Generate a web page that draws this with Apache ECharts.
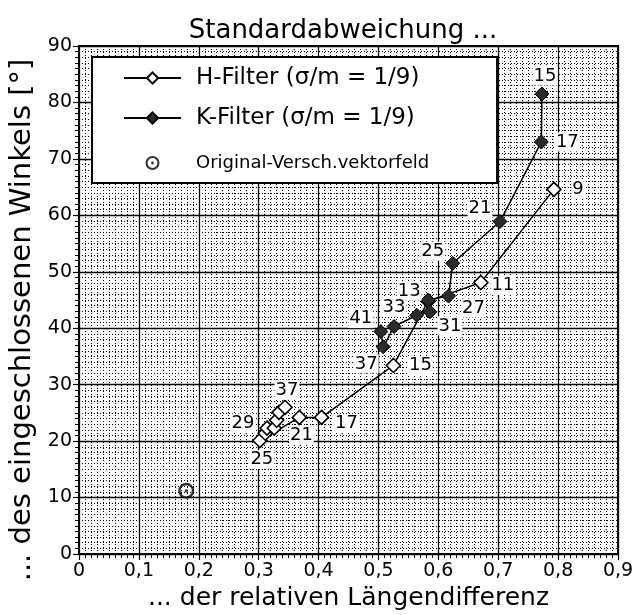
<!DOCTYPE html>
<html><head><meta charset="utf-8">
<script src="https://cdn.jsdelivr.net/npm/echarts@6/dist/echarts.min.js"></script>
<style>html,body{margin:0;padding:0;background:#fff}#c{width:637px;height:615px}</style>
</head><body><div id="c"></div>
<script>
// ---- data ----
const hX = [0.793, 0.671, 0.583, 0.525, 0.405, 0.368, 0.302, 0.311, 0.314, 0.326, 0.330, 0.334, 0.344];
const hY = [64.6, 48.1, 44.8, 33.4, 24.2, 24.2, 20.1, 21.4, 22.3, 22.3, 23.7, 25.1, 26.0];
const hLab = ['9', '11', '13', '15', '17', '21', '25', '', '29', '', '', '', '37'];
const kX = [0.773, 0.772, 0.703, 0.624, 0.617, 0.583, 0.586, 0.564, 0.526, 0.508, 0.504];
const kY = [81.5, 73.0, 58.9, 51.5, 45.7, 45.0, 42.9, 42.3, 40.3, 36.7, 39.4];
const kLab = ['15', '17', '21', '25', '27', '', '31', '', '33', '37', '41'];
const oX = [0.179];
const oY = [11.2];
const xTicks = ['0', '0,1', '0,2', '0,3', '0,4', '0,5', '0,6', '0,7', '0,8', '0,9'];
const yTicks = ['0', '10', '20', '30', '40', '50', '60', '70', '80', '90'];
const names = ['H-Filter (σ/m = 1/9)', 'K-Filter (σ/m = 1/9)', 'Original-Versch.vektorfeld'];

// label offsets in pixels (style, not data)
const hOff = [[24,0],[22,3],[-19,-10],[27,0],[25,6],[2,18],[2,19],[0,0],[-24,-5],[0,0],[0,0],[0,0],[2,-17]];
const kOff = [[3,-18],[26,0],[-20,-13],[-20,-12],[25,12],[0,0],[20,14],[0,0],[0,-19],[-17,17],[-20,-13]];

const FAM = 'DejaVu Sans';
const ring = 'path://M0,-10 A10,10 0 1,1 0,10 A10,10 0 1,1 0,-10 Z M0,-7 A7,7 0 1,0 0,7 A7,7 0 1,0 0,-7 Z M0,-2 A2,2 0 1,1 0,2 A2,2 0 1,1 0,-2 Z';

function pts(xs, ys) { return xs.map((x, i) => [x, ys[i]]); }
function labData(xs, ys, labs) {
  const out = [];
  xs.forEach((x, i) => { if (labs[i]) out.push([x, ys[i], i]); });
  return out;
}
function labelSeries(xs, ys, labs, offs) {
  return {
    type: 'custom', z: 6, silent: true,
    data: labData(xs, ys, labs),
    encode: { x: 0, y: 1 },
    renderItem: function (params, api) {
      const i = api.value(2);
      const p = api.coord([api.value(0), api.value(1)]);
      return {
        type: 'text', x: p[0] + offs[i][0], y: p[1] + offs[i][1],
        style: { text: labs[i], fill: '#000', fontSize: 18, fontFamily: FAM, align: 'center', verticalAlign: 'middle',
                 backgroundColor: '#fff', padding: [1, 1, 0, 1] }
      };
    }
  };
}

const chart = echarts.init(document.getElementById('c'));
const axisCommon = {
  type: 'value',
  axisLine: { show: true, onZero: false, lineStyle: { color: '#000', width: 2 } },
  axisTick: { show: true, inside: false, length: 6, lineStyle: { color: '#000', width: 1.2 } },
  minorTick: { show: true, splitNumber: 10, length: 4, lineStyle: { color: '#000', width: 1 } },
  splitLine: { show: true, lineStyle: { color: '#000', width: 1.3 } },
  minorSplitLine: { show: true, lineStyle: { color: '#000', width: 1, type: [1, 2] } },
  nameLocation: 'middle'
};
chart.setOption({
  animation: false,
  backgroundColor: '#fff',
  grid: { left: 79, right: 19, top: 46, bottom: 61, outerBoundsMode: 'none', show: true, borderColor: '#000', borderWidth: 2 },
  xAxis: Object.assign({}, axisCommon, {
    min: 0, max: 0.9, interval: 0.1,
    name: '... der relativen Längendifferenz', nameGap: 32,
    nameTextStyle: { color: '#000', fontSize: 25, fontFamily: FAM },
    axisLabel: { color: '#000', fontSize: 19, fontFamily: FAM, margin: 8,
                 formatter: (v) => xTicks[Math.round(v * 10)] }
  }),
  yAxis: Object.assign({}, axisCommon, {
    min: 0, max: 90, interval: 10,
    name: '... des eingeschlossenen Winkels [°]', nameGap: 32,
    nameTextStyle: { color: '#000', fontSize: 29, fontFamily: FAM, padding: [0, 40, 0, 0] },
    axisLabel: { color: '#000', fontSize: 19, fontFamily: FAM, margin: 7,
                 formatter: (v) => yTicks[Math.round(v / 10)] }
  }),
  graphic: [
    { type: 'text', z: 20, x: 343, y: 31, style: { text: 'Standardabweichung ...', fill: '#000', fontSize: 26, fontFamily: FAM, align: 'center', verticalAlign: 'middle' } },
    { type: 'rect', z: 5, shape: { x: 92, y: 57, width: 405, height: 126 }, style: { fill: '#fff', stroke: '#000', lineWidth: 2 } }
  ],
  legend: {
    z: 10, orient: 'vertical', left: 123, top: 65, padding: 0,
    itemWidth: 57, itemHeight: 14, itemGap: 14,
    textStyle: { color: '#000', fontFamily: FAM, padding: [0, 0, 0, 10] },
    data: [
      { name: names[0], textStyle: { fontSize: 23, lineHeight: 26 } },
      { name: names[1], textStyle: { fontSize: 23, lineHeight: 26 } },
      { name: names[2], textStyle: { fontSize: 18, lineHeight: 36 } }
    ]
  },
  series: [
    {
      name: names[0], type: 'line', z: 3, data: pts(hX, hY),
      symbol: 'diamond', symbolSize: 14,
      lineStyle: { color: '#000', width: 1.5 },
      itemStyle: { color: '#fff', borderColor: '#000', borderWidth: 1.6 }
    },
    {
      name: names[1], type: 'line', z: 4, data: pts(kX, kY),
      symbol: 'diamond', symbolSize: 14,
      lineStyle: { color: '#000', width: 1.5 },
      itemStyle: { color: '#2a2a2a', borderColor: '#000', borderWidth: 1 }
    },
    {
      name: names[2], type: 'scatter', z: 4, data: pts(oX, oY),
      symbol: ring, symbolSize: 16, symbolKeepAspect: true,
      itemStyle: { color: '#000' }
    },
    labelSeries(hX, hY, hLab, hOff),
    labelSeries(kX, kY, kLab, kOff)
  ]
});
</script></body></html>
